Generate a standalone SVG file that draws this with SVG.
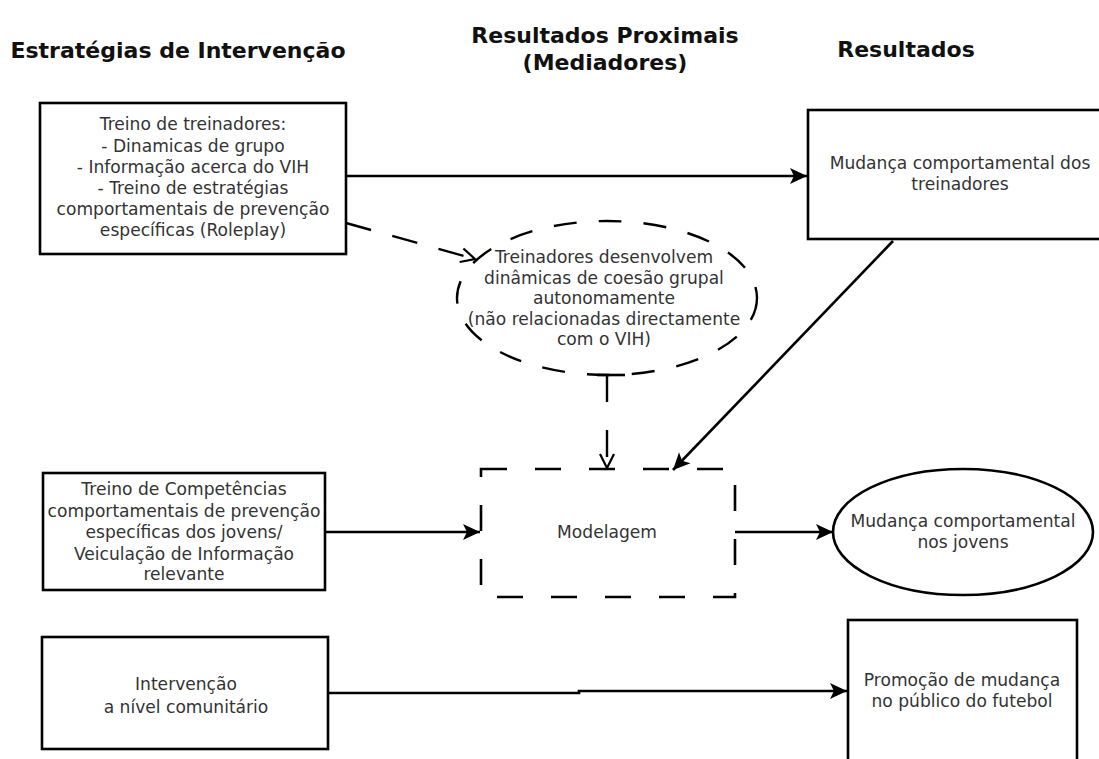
<svg xmlns="http://www.w3.org/2000/svg" width="1099" height="759" viewBox="0 0 1099 759">
<style>
.title{font-family:"DejaVu Sans",sans-serif;font-weight:bold;font-size:22px;fill:#111;text-anchor:middle}
.t{font-family:"DejaVu Sans",sans-serif;font-size:17.1px;fill:#333;text-anchor:middle}
.box{fill:#fff;stroke:#000;stroke-width:2.6}
.dbox{fill:none;stroke:#000;stroke-width:2.6;stroke-dasharray:26 28}
.dell{fill:none;stroke:#000;stroke-width:2.4;stroke-dasharray:23 22}
.line{fill:none;stroke:#000;stroke-width:2.6}
.dline{fill:none;stroke:#000;stroke-width:2.4;stroke-dasharray:26 22}
</style>
<defs>
<marker id="arr" markerUnits="userSpaceOnUse" markerWidth="20" markerHeight="20" viewBox="0 0 20 20" refX="18" refY="10" orient="auto">
<path d="M1,2 L18,10 L1,18 L5,10 Z" fill="#000"/>
</marker>
<marker id="open" markerUnits="userSpaceOnUse" markerWidth="20" markerHeight="20" viewBox="0 0 20 20" refX="17" refY="10" orient="auto">
<path d="M3,3 L17,10 L3,17" fill="none" stroke="#000" stroke-width="2.2"/>
</marker>
</defs>
<rect width="1099" height="759" fill="#fff"/>
<g id="titles">
<text class="title" x="178" y="58">Estratégias de Intervenção</text>
<text class="title" x="605" y="43">Resultados Proximais</text>
<text class="title" x="605" y="70">(Mediadores)</text>
<text class="title" x="906" y="57">Resultados</text>
</g>
<g id="connectors">
<line class="line" x1="346" y1="176" x2="807" y2="176" marker-end="url(#arr)"/>
<line class="dline" x1="346" y1="223" x2="475" y2="259" marker-end="url(#open)"/>
<line class="line" x1="893" y1="241" x2="673" y2="470" marker-end="url(#arr)"/>
<line class="line" x1="597" y1="375" x2="625" y2="375"/>
<path class="dline" d="M607,375 V468" style="stroke-dasharray:27 28" marker-end="url(#open)"/>
<line class="line" x1="325" y1="532" x2="480" y2="532" marker-end="url(#arr)"/>
<line class="line" x1="735" y1="532" x2="833" y2="532" marker-end="url(#arr)"/>
<path class="line" d="M328,693 H579 V691 H847" marker-end="url(#arr)"/>
</g>
<g id="n1">
<rect class="box" x="40" y="103" width="306" height="151"/>
<text class="t" x="193" y="130">Treino de treinadores:</text>
<text class="t" x="193" y="151.5">- Dinamicas de grupo</text>
<text class="t" x="193" y="173">- Informação acerca do VIH</text>
<text class="t" x="193" y="194">- Treino de estratégias</text>
<text class="t" x="193" y="215">comportamentais de prevenção</text>
<text class="t" x="193" y="236">específicas (Roleplay)</text>
</g>
<g id="n2">
<rect class="box" x="808" y="110" width="300" height="129"/>
<text class="t" x="960" y="169">Mudança comportamental dos</text>
<text class="t" x="960" y="190">treinadores</text>
</g>
<g id="n3">
<ellipse class="dell" cx="607" cy="298" rx="150" ry="77"/>
<text class="t" x="604" y="263">Treinadores desenvolvem</text>
<text class="t" x="604" y="284">dinâmicas de coesão grupal</text>
<text class="t" x="604" y="304">autonomamente</text>
<text class="t" x="604" y="325">(não relacionadas directamente</text>
<text class="t" x="604" y="345">com o VIH)</text>
</g>
<g id="n4">
<rect class="box" x="43" y="473" width="282" height="117"/>
<text class="t" x="184" y="495">Treino de Competências</text>
<text class="t" x="184" y="517">comportamentais de prevenção</text>
<text class="t" x="184" y="538">específicas dos jovens/</text>
<text class="t" x="184" y="560">Veiculação de Informação</text>
<text class="t" x="184" y="580">relevante</text>
</g>
<g id="n5">
<rect class="dbox" x="481" y="469" width="254" height="128"/>
<text class="t" x="607" y="538">Modelagem</text>
</g>
<g id="n6">
<ellipse class="box" cx="963" cy="532" rx="130" ry="63"/>
<text class="t" x="963" y="527">Mudança comportamental</text>
<text class="t" x="963" y="548">nos jovens</text>
</g>
<g id="n7">
<rect class="box" x="42" y="637" width="286" height="112"/>
<text class="t" x="186" y="690">Intervenção</text>
<text class="t" x="186" y="713">a nível comunitário</text>
</g>
<g id="n8">
<rect class="box" x="848" y="620" width="229" height="160"/>
<text class="t" x="962" y="686">Promoção de mudança</text>
<text class="t" x="962" y="707">no público do futebol</text>
</g>
</svg>
